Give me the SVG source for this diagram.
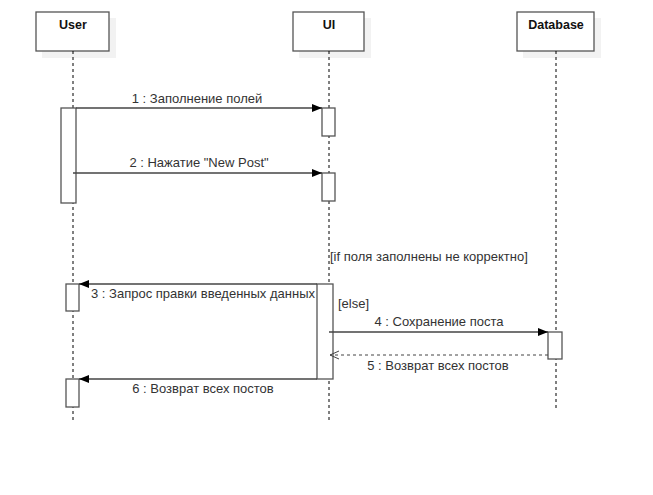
<svg xmlns="http://www.w3.org/2000/svg" width="653" height="495" viewBox="0 0 653 495">
<defs>
<style>
.box{fill:#fff;stroke:#555;stroke-width:1.3}
.shadow{fill:#f2f2f2}
.life{stroke:#000;stroke-width:1;stroke-dasharray:3 3;fill:none}
.act{fill:#fff;stroke:#555;stroke-width:1.3}
.msg{stroke:#444;stroke-width:1.3;fill:none}
.ret{stroke:#444;stroke-width:1;stroke-dasharray:3 3;fill:none}
.hdr{font-family:"Liberation Sans",Arial,sans-serif;font-size:12.5px;font-weight:bold;fill:#111;text-anchor:middle}
.lbl{font-family:"Liberation Sans",Arial,sans-serif;font-size:13px;fill:#333}
</style>
<marker id="fill" viewBox="0 0 10 10" refX="10" refY="5" markerWidth="10" markerHeight="10" markerUnits="userSpaceOnUse" orient="auto"><path d="M0,1 L10,5 L0,9 Z" fill="#000"/></marker>
<marker id="open" viewBox="0 0 10 10" refX="9" refY="5" markerWidth="10" markerHeight="10" markerUnits="userSpaceOnUse" orient="auto"><path d="M0,1 L9,5 L0,9" fill="none" stroke="#444" stroke-width="1"/></marker>
</defs>
<rect width="653" height="495" fill="#fff"/>
<g id="user">
<rect class="shadow" x="42" y="18" width="74" height="40"/>
<rect class="box" x="36" y="12" width="73" height="39"/>
<text class="hdr" x="73" y="29">User</text>
<line class="life" x1="73" y1="51" x2="73" y2="420"/>
<rect class="act" x="61" y="108" width="15" height="95"/>
<rect class="act" x="66" y="284" width="13" height="27"/>
<rect class="act" x="66" y="379" width="13" height="28"/>
</g>
<g id="ui">
<rect class="shadow" x="299" y="18" width="72" height="40"/>
<rect class="box" x="293" y="12" width="71" height="39"/>
<text class="hdr" x="329" y="29">UI</text>
<line class="life" x1="329" y1="51" x2="329" y2="420"/>
<rect class="act" x="322" y="108" width="13" height="28"/>
<rect class="act" x="322" y="173" width="13" height="28"/>
<rect class="act" x="317" y="284" width="16" height="95"/>
</g>
<g id="database">
<rect class="shadow" x="523" y="18" width="78" height="40"/>
<rect class="box" x="517" y="12" width="77" height="39"/>
<text class="hdr" x="556" y="29">Database</text>
<line class="life" x1="556" y1="51" x2="556" y2="408"/>
<rect class="act" x="548" y="332" width="14" height="27"/>
</g>
<g id="connectors">
<line class="msg" x1="76" y1="108" x2="322" y2="108" marker-end="url(#fill)"/>
<text class="lbl" x="197" y="103" text-anchor="middle">1 : Заполнение полей</text>
<line class="msg" x1="73" y1="173" x2="322" y2="173" marker-end="url(#fill)"/>
<text class="lbl" x="199" y="167" text-anchor="middle">2 : Нажатие "New Post"</text>
<text class="lbl" x="330" y="261">[if поля заполнены не корректно]</text>
<line class="msg" x1="317" y1="284" x2="79" y2="284" marker-end="url(#fill)"/>
<text class="lbl" x="91" y="298">3 : Запрос правки введенных данных</text>
<text class="lbl" x="338" y="308">[else]</text>
<line class="msg" x1="329" y1="332" x2="548" y2="332" marker-end="url(#fill)"/>
<text class="lbl" x="439" y="326" text-anchor="middle">4 : Сохранение поста</text>
<line class="ret" x1="548" y1="355" x2="330" y2="355" marker-end="url(#open)"/>
<text class="lbl" x="438" y="370" text-anchor="middle">5 : Возврат всех постов</text>
<line class="msg" x1="317" y1="379" x2="79" y2="379" marker-end="url(#fill)"/>
<text class="lbl" x="203" y="393" text-anchor="middle">6 : Возврат всех постов</text>
</g>
</svg>
